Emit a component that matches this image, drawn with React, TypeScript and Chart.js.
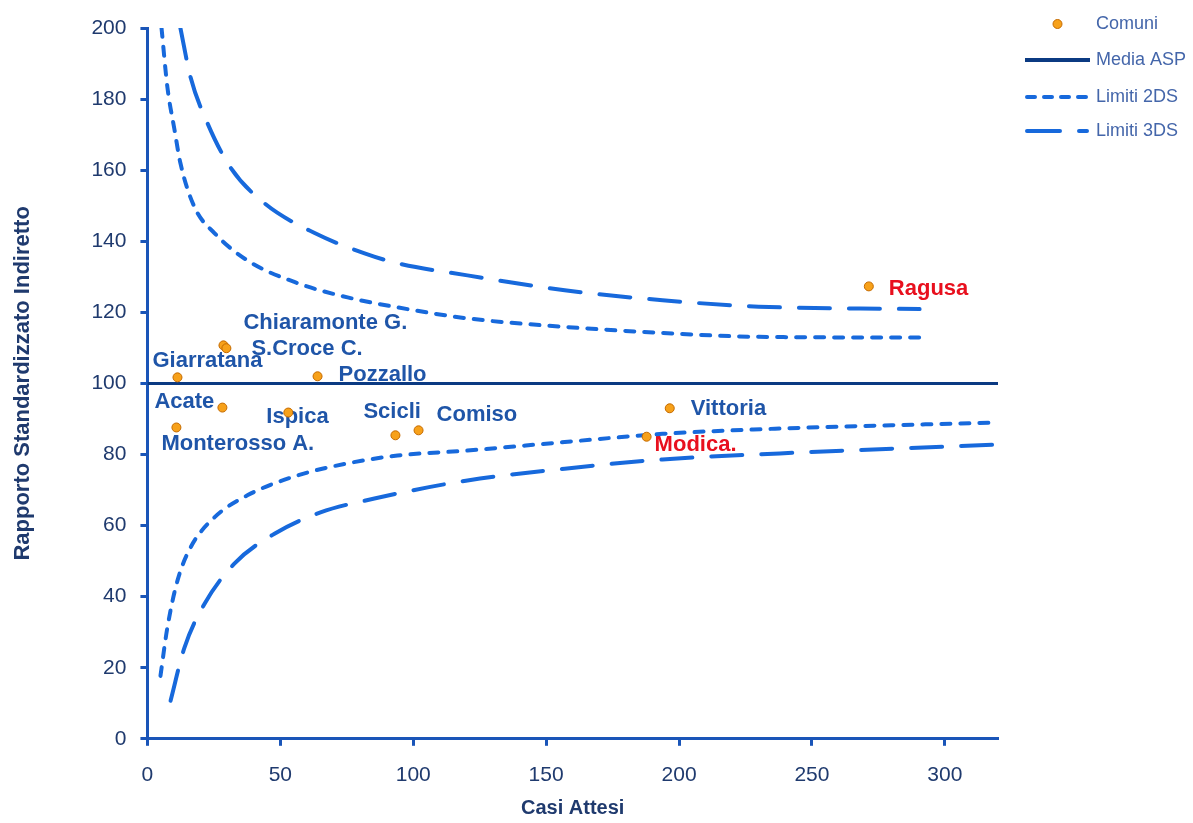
import React, { useEffect, useRef } from 'react';
import { Chart, registerables } from 'chart.js';

Chart.register(...registerables);

// ---- Data ----
const comuniNames = ['Giarratana', 'Chiaramonte G.', 'S.Croce C.', 'Pozzallo', 'Acate', 'Monterosso A.', 'Ispica', 'Scicli', 'Comiso', 'Vittoria', 'Modica.', 'Ragusa'];
const comuniX = [11.3, 28.6, 29.7, 64.0, 28.2, 10.9, 53.0, 93.3, 102.0, 196.5, 187.8, 271.4];
const comuniY = [101.7, 110.7, 109.9, 102.0, 93.2, 87.6, 91.8, 85.4, 86.8, 93.0, 85.0, 127.3];
const comuniHighlight = [false, false, false, false, false, false, false, false, false, false, true, true];

const mediaX = [0, 320];
const mediaY = [100, 100];

const upper2dsX = [5.3, 7.5, 10.2, 12.4, 17.7, 25.2, 37.6, 56.5, 75.3, 94.1, 120.4, 157, 193.8, 230, 290.5];
const upper2dsY = [200, 183.4, 171.3, 162, 149.6, 142.3, 134.6, 128.2, 124.2, 121.4, 118.3, 115.9, 114.2, 113.1, 112.9];

const lower2dsX = [4.9, 7.5, 11.3, 16.2, 25.2, 37.6, 56.5, 75.3, 94.1, 120.4, 157, 193.8, 237.9, 320];
const lower2dsY = [17.7, 31.3, 44.5, 53.8, 62.3, 68.5, 74.1, 77.5, 79.7, 81.1, 83.5, 85.8, 87.3, 89.0];

const upper3dsX = [12.4, 16.2, 22.6, 31.2, 44, 62.9, 81.7, 94.1, 120.4, 157, 193.8, 230, 290.5];
const upper3dsY = [200, 186.2, 173.2, 160.8, 150.7, 142.3, 136.6, 133.8, 130.4, 126.2, 123.4, 121.6, 120.9];

const lower3dsX = [8.7, 13.9, 21.5, 32.7, 47.8, 65.1, 85.4, 120.4, 157, 193.8, 237.9, 320];
const lower3dsY = [10.7, 25.6, 38, 49.3, 57.7, 63.7, 67.6, 72.7, 76, 78.6, 80.3, 82.8];

const xTicks = [0, 50, 100, 150, 200, 250, 300];
const yTicks = [0, 20, 40, 60, 80, 100, 120, 140, 160, 180, 200];

const legendLabels = ['Comuni', 'Media ASP', 'Limiti 2DS', 'Limiti 3DS'];
const xTitle = 'Casi Attesi';
const yTitle = 'Rapporto Standardizzato Indiretto';

// ---- Styles (label placement relative to each point, in px) ----
const labelOffsets: [number, number][] = [
  [-25, -16], [20, -22], [25, 1], [21, -1], [-68, -6], [-15, 16],
  [-22, 4], [-32, -23], [18, -15], [21, 1], [8, 8], [20, 3],
];

const FONT = '"Liberation Sans", Arial, sans-serif';
const AXIS_BLUE = '#1a55b8';
const TEXT_NAVY = '#1f3a6e';
const LABEL_BLUE = '#1f55a8';
const LABEL_RED = '#e8101e';
const LIMIT_BLUE = '#1769dc';
const MEDIA_NAVY = '#0b3a82';
const DOT_FILL = '#f7a11a';
const DOT_BORDER = '#c46a00';
const LEGEND_TEXT = '#4466aa';

const zip = (xs: number[], ys: number[]) => xs.map((x, i) => ({ x, y: ys[i] }));

const labelsPlugin = {
  id: 'pointLabels',
  beforeDatasetsDraw(chart: any) {
    const meta = chart.getDatasetMeta(0);
    const ctx = chart.ctx;
    ctx.save();
    ctx.font = `bold 22px ${FONT}`;
    ctx.textBaseline = 'middle';
    ctx.textAlign = 'left';
    meta.data.forEach((pt: any, i: number) => {
      const [dx, dy] = labelOffsets[i];
      ctx.fillStyle = comuniHighlight[i] ? LABEL_RED : LABEL_BLUE;
      ctx.fillText(comuniNames[i], pt.x + dx, pt.y + dy);
    });
    ctx.restore();
  },
};

const legendPlugin = {
  id: 'customLegend',
  afterDraw(chart: any) {
    const ctx = chart.ctx;
    ctx.save();
    const x0 = 1025;
    const x1 = 1090;
    const tx = 1096;
    const rows = [24, 60, 97, 131];
    ctx.font = `18px ${FONT}`;
    ctx.textBaseline = 'middle';
    ctx.textAlign = 'left';
    ctx.fillStyle = LEGEND_TEXT;
    legendLabels.forEach((t, i) => ctx.fillText(t, tx, rows[i]));

    ctx.beginPath();
    ctx.arc((x0 + x1) / 2, rows[0], 4.5, 0, Math.PI * 2);
    ctx.fillStyle = DOT_FILL;
    ctx.fill();
    ctx.lineWidth = 1;
    ctx.strokeStyle = DOT_BORDER;
    ctx.stroke();

    ctx.beginPath();
    ctx.lineWidth = 4;
    ctx.strokeStyle = MEDIA_NAVY;
    ctx.lineCap = 'butt';
    ctx.moveTo(x0, rows[1]);
    ctx.lineTo(x1, rows[1]);
    ctx.stroke();

    ctx.beginPath();
    ctx.strokeStyle = LIMIT_BLUE;
    ctx.lineCap = 'round';
    ctx.setLineDash([8, 9]);
    ctx.moveTo(x0 + 2, rows[2]);
    ctx.lineTo(x1 - 2, rows[2]);
    ctx.stroke();

    ctx.beginPath();
    ctx.setLineDash([33, 19, 8, 100]);
    ctx.moveTo(x0 + 2, rows[3]);
    ctx.lineTo(x1 - 2, rows[3]);
    ctx.stroke();
    ctx.restore();
  },
};

export default function App() {
  const ref = useRef<HTMLCanvasElement>(null);

  useEffect(() => {
    const canvas = ref.current;
    if (!canvas) return;
    const limitCommon = {
      showLine: true,
      pointRadius: 0,
      borderColor: LIMIT_BLUE,
      borderWidth: 4,
      borderCapStyle: 'round' as const,
      cubicInterpolationMode: 'monotone' as const,
      fill: false,
    };
    const gridOpts = {
      display: true,
      drawOnChartArea: false,
      drawTicks: true,
      tickLength: 7,
      tickWidth: 3,
      tickColor: AXIS_BLUE,
      color: AXIS_BLUE,
    };
    const chart = new Chart(canvas, {
      type: 'scatter',
      data: {
        datasets: [
          {
            label: legendLabels[0],
            data: zip(comuniX, comuniY),
            pointRadius: 4.5,
            pointBackgroundColor: DOT_FILL,
            pointBorderColor: DOT_BORDER,
            pointBorderWidth: 1,
          },
          {
            label: legendLabels[1],
            data: zip(mediaX, mediaY),
            showLine: true,
            pointRadius: 0,
            borderColor: MEDIA_NAVY,
            borderWidth: 3,
          },
          { label: legendLabels[2], data: zip(upper2dsX, upper2dsY), borderDash: [9, 10], ...limitCommon },
          { label: legendLabels[2], data: zip(lower2dsX, lower2dsY), borderDash: [9, 10], ...limitCommon },
          { label: legendLabels[3], data: zip(upper3dsX, upper3dsY), borderDash: [31, 19], ...limitCommon },
          { label: legendLabels[3], data: zip(lower3dsX, lower3dsY), borderDash: [31, 19], ...limitCommon },
        ],
      },
      options: {
        responsive: false,
        animation: false,
        devicePixelRatio: 1,
        layout: { padding: { left: 10, right: 195, top: 28, bottom: 3 } },
        plugins: {
          legend: { display: false },
          tooltip: { enabled: false },
        },
        scales: {
          x: {
            type: 'linear',
            min: 0,
            max: 320,
            afterBuildTicks: (axis: any) => {
              axis.ticks = xTicks.map((v) => ({ value: v }));
            },
            ticks: {
              font: { family: FONT, size: 21 },
              color: TEXT_NAVY,
              padding: 17,
              maxRotation: 0,
            },
            grid: gridOpts,
            border: { display: true, color: AXIS_BLUE, width: 3 },
            title: {
              display: true,
              text: xTitle,
              font: { family: FONT, size: 20, weight: 'bold' },
              color: TEXT_NAVY,
              padding: { top: -9, bottom: 0 },
            },
          },
          y: {
            type: 'linear',
            min: 0,
            max: 200,
            afterBuildTicks: (axis: any) => {
              axis.ticks = yTicks.map((v) => ({ value: v }));
            },
            ticks: {
              font: { family: FONT, size: 21 },
              color: TEXT_NAVY,
              padding: 14,
            },
            grid: gridOpts,
            border: { display: true, color: AXIS_BLUE, width: 3 },
            title: {
              display: true,
              text: yTitle,
              font: { family: FONT, size: 22, weight: 'bold' },
              color: TEXT_NAVY,
              padding: { top: 0, bottom: 41 },
            },
          },
        },
      },
      plugins: [labelsPlugin, legendPlugin],
    } as any);
    return () => chart.destroy();
  }, []);

  return (
    <div style={{ position: 'fixed', left: 0, top: 0, width: 1193, height: 823, background: '#ffffff' }}>
      <canvas ref={ref} width={1193} height={823} style={{ display: 'block', width: 1193, height: 823 }} />
    </div>
  );
}
